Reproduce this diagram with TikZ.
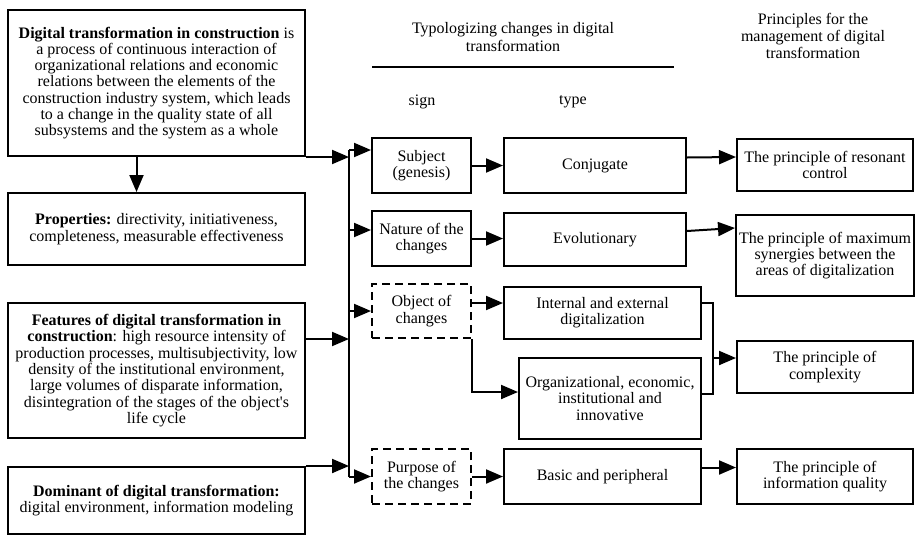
\documentclass[tikz,border=0pt]{standalone}
\usepackage{fontspec}
\setmainfont{Liberation Serif}
\usetikzlibrary{arrows.meta,calc}
\begin{document}
\begin{tikzpicture}[x=1pt,y=-1pt,
  txt/.style={font=\fontsize{16}{16.3}\selectfont, align=center, inner sep=0pt},
  box/.style={draw, line width=2pt, txt, inner xsep=3pt},
  dbox/.style={box, dash pattern=on 8pt off 5pt},
  ln/.style={line width=2pt},
  arr/.style={ln, -{Triangle[length=17pt,width=14pt]}}]
\useasboundingbox (0,0) rectangle (915,536);
% left column
\node[box, minimum width=297pt, minimum height=146pt] (def) at (156.5,83)
  {\textbf{Digital transformation in construction} is\\a process of continuous interaction of\\organizational relations and economic\\relations between the elements of the\\construction industry system, which leads\\to a change in the quality state of all\\subsystems and the system as a whole};
\node[box, minimum width=297pt, minimum height=72pt] (prop) at (156.5,229)
  {\textbf{Properties:} directivity, initiativeness,\\completeness, measurable effectiveness};
\node[box, minimum width=297pt, minimum height=135pt] (feat) at (156.5,370.5)
  {\textbf{Features of digital transformation in}\\\textbf{construction}: high resource intensity of\\production processes, multisubjectivity, low\\density of the institutional environment,\\large volumes of disparate information,\\disintegration of the stages of the object\textquotesingle s\\life cycle};
\node[box, minimum width=297pt, minimum height=67pt] (dom) at (156.5,500.5)
  {\textbf{Dominant of digital transformation:}\\digital environment, information modeling};
% headers
\node[txt, font=\fontsize{16}{17.5}\selectfont] (hdr1) at (513,37) {Typologizing changes in digital\\transformation};
\coordinate (rl) at (372,67);
\coordinate (rr) at (674,67);
\draw[ln] (rl) -- (rr);
\node[txt] (sign) at (422,102) {sign};
\node[txt] (type) at (573,102) {type};
\node[txt, font=\fontsize{16}{17}\selectfont] (hdr2) at (813,36) {Principles for the\\management of digital\\transformation};
% sign column
\node[box, minimum width=99pt, minimum height=55pt] (subj) at (421.5,165.5) {Subject\\(genesis)};
\node[box, minimum width=99pt, minimum height=55pt] (nat) at (421.5,238.5) {Nature of the\\changes};
\node[dbox, minimum width=99pt, minimum height=54pt] (obj) at (421.5,311) {Object of\\changes};
\node[dbox, minimum width=99pt, minimum height=55pt] (purp) at (421.5,476.5) {Purpose of\\the changes};
% type column
\node[box, minimum width=182pt, minimum height=55pt] (conj) at (595,165.5) {Conjugate};
\node[box, minimum width=182pt, minimum height=53pt] (evo) at (595,239.5) {Evolutionary};
\node[box, minimum width=197pt, minimum height=52pt] (intl) at (602.5,313) {Internal and external\\digitalization};
\node[box, minimum width=182pt, minimum height=81pt] (org) at (610,398.5) {Organizational, economic,\\institutional and\\innovative};
\node[box, minimum width=197pt, minimum height=55pt] (basic) at (602.5,476.5) {Basic and peripheral};
% principles column
\node[box, minimum width=176pt, minimum height=52pt] (res) at (825,165) {The principle of resonant\\control};
\node[box, minimum width=176pt, minimum height=81pt] (max) at (825,255.5) {The principle of maximum\\synergies between the\\areas of digitalization};
\node[box, minimum width=176pt, minimum height=52pt] (comp) at (825,367) {The principle of\\complexity};
\node[box, minimum width=176pt, minimum height=55pt] (iq) at (825,476.5) {The principle of\\information quality};
% bus
\coordinate (bustop) at (349,150);
\coordinate (busbot) at (349,476.5);
\draw[ln] (bustop) -- (busbot);
% left to bus
\draw[arr] (def.south east) -- (def.south east -| bustop);
\draw[arr] ([xshift=-20pt]def.south) -- ([xshift=-20pt]prop.north);
\draw[arr] ([yshift=31.5pt]feat.east) -- ([yshift=31.5pt]feat.east -| bustop);
\draw[arr] (dom.north east) -- (dom.north east -| bustop);
% bus to signs
\draw[arr] (bustop) -- (bustop -| subj.west);
\draw[arr] ([yshift=8.5pt]nat.west -| bustop) -- ([yshift=8.5pt]nat.west);
\draw[arr] (obj.west -| bustop) -- (obj.west);
\draw[arr] (busbot) -- (purp.west);
% signs to types
\draw[arr] (subj.east) -- (subj.east -| conj.west);
\draw[arr] (nat.east) -- (nat.east -| evo.west);
\draw[arr] ([yshift=8pt]obj.east) -- ([yshift=8pt]obj.east -| intl.west);
\draw[arr] (obj.south east) |- ([yshift=6.5pt]org.west);
\draw[arr] (purp.east) -- (purp.east -| basic.west);
% types to principles
\draw[arr] ([yshift=8pt]conj.east) -- ([yshift=8pt]res.west);
\draw[arr] ([yshift=8.5pt]evo.east) -- ([yshift=27.5pt]max.west);
\coordinate (brk) at (713,358);
\draw[ln] ([yshift=10pt]intl.east) -| (brk) |- ([yshift=4.5pt]org.east);
\draw[arr] (brk) -- (brk -| comp.west);
\draw[arr] ([yshift=9pt]basic.east) -- ([yshift=9pt]basic.east -| iq.west);
\end{tikzpicture}
\end{document}
